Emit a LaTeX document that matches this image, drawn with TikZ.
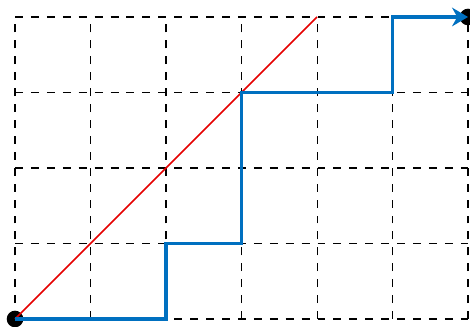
\documentclass[tikz,border=0pt]{standalone}
\usetikzlibrary{arrows.meta}
\definecolor{pathblue}{RGB}{0,112,192}
\tikzset{
  gridline/.style={black, dashed, line width=0.4pt},
  diag/.style={red!90!black, line width=0.6pt},
  walk/.style={pathblue, line width=1.2pt},
  dot/.style={circle, fill=black, inner sep=0pt, minimum size=0.22cm},
}
\begin{document}
\begin{tikzpicture}
\clip (-0.199,-0.093) rectangle (6.026,4.225);
\useasboundingbox (-0.199,-0.093) rectangle (6.026,4.225);
\draw[gridline] (0,0) grid (6,4);
\node[dot] (s) at (0,0) {};
\node[dot] (e) at (6,4) {};
\coordinate (d) at (4,4);
\coordinate (o) at (0,0);
\draw[diag] (o) -- (d);
\draw[walk, -{Stealth[length=6pt,width=7pt]}] (o) -- (2,0) -- (2,1) -- (3,1) -- (3,3) -- (5,3) -- (5,4) -- (e.center);
\end{tikzpicture}
\end{document}
